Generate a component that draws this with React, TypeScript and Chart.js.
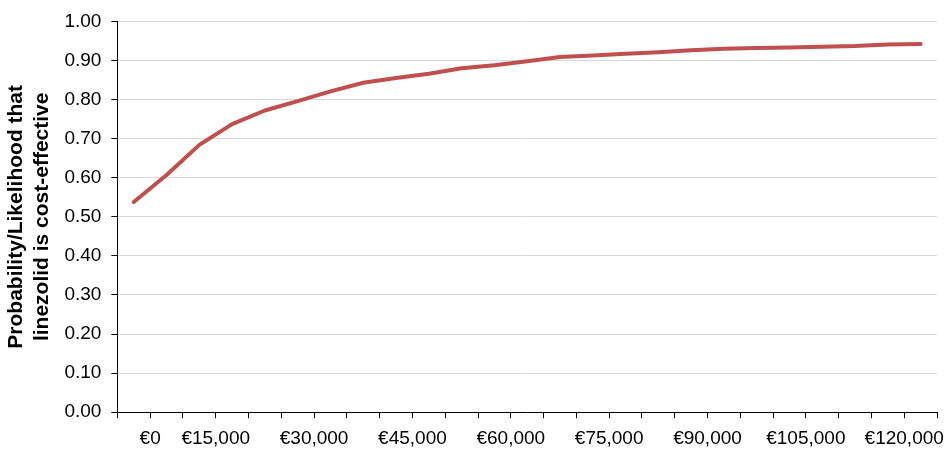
import React, { useEffect, useRef } from "react";
import { Chart, registerables } from "chart.js";

Chart.register(...registerables);

const categories: string[] = [
  "€0", "€5,000", "€10,000", "€15,000", "€20,000", "€25,000", "€30,000", "€35,000",
  "€40,000", "€45,000", "€50,000", "€55,000", "€60,000", "€65,000", "€70,000", "€75,000",
  "€80,000", "€85,000", "€90,000", "€95,000", "€100,000", "€105,000", "€110,000", "€115,000",
  "€120,000",
];

const probability: number[] = [
  0.538, 0.607, 0.684, 0.737, 0.772, 0.796, 0.821, 0.843, 0.855, 0.866, 0.88, 0.888,
  0.898, 0.909, 0.913, 0.917, 0.921, 0.926, 0.93, 0.932, 0.933, 0.935, 0.937, 0.941, 0.942,
];

const xTickLabels: string[] = [
  "€0", "€15,000", "€30,000", "€45,000", "€60,000", "€75,000", "€90,000", "€105,000", "€120,000",
];

const yTitle: string[] = ["Probability/Likelihood that", "linezolid is cost-effective"];

const FONT = "'Liberation Sans', Arial, sans-serif";

export default function App() {
  const ref = useRef<HTMLCanvasElement | null>(null);

  useEffect(() => {
    document.body.style.margin = "0";
    const canvas = ref.current;
    if (!canvas) return;
    const n = categories.length;
    const chart = new Chart(canvas, {
      type: "line",
      data: {
        datasets: [
          {
            label: "Probability",
            data: probability.map((v, i) => ({ x: i, y: v })),
            borderColor: "#c0504d",
            backgroundColor: "#c0504d",
            borderWidth: 4,
            pointRadius: 0,
            tension: 0,
            borderCapStyle: "round",
            borderJoinStyle: "round",
          },
        ],
      },
      options: {
        animation: false,
        responsive: false,
        maintainAspectRatio: false,
        layout: { padding: { top: 12, right: 0, left: 4, bottom: -9 } },
        plugins: {
          legend: { display: false },
          tooltip: { enabled: false },
        },
        scales: {
          x: {
            type: "linear",
            min: -0.5,
            max: n - 0.5,
            afterBuildTicks: (axis: any) => {
              const t: { value: number }[] = [];
              for (let b = 0; b <= n; b++) t.push({ value: b - 0.5 });
              axis.ticks = t;
            },
            ticks: {
              autoSkip: false,
              maxRotation: 0,
              minRotation: 0,
              padding: 9,
              color: "#000",
              font: { family: FONT, size: 19 },
              callback: (value: any) => {
                const b = Math.round(Number(value) + 0.5);
                if (b === 1) return xTickLabels[0];
                if (b >= 3 && (b - 3) % 3 === 0) {
                  const k = (b - 3) / 3 + 1;
                  return k < xTickLabels.length ? xTickLabels[k] : "";
                }
                return "";
              },
            },
            grid: {
              drawOnChartArea: false,
              drawTicks: true,
              tickLength: 6,
              color: "#000",
              tickColor: "#000",
            },
            border: { display: true, color: "#000", width: 1 },
          },
          y: {
            min: 0,
            max: 1,
            ticks: {
              stepSize: 0.1,
              padding: 10,
              color: "#000",
              font: { family: FONT, size: 19 },
              callback: (v: any) => Number(v).toFixed(2),
            },
            grid: {
              color: "#d9d9d9",
              lineWidth: 1,
              drawTicks: true,
              tickLength: 6,
              tickColor: "#000",
            },
            border: { display: true, color: "#000", width: 1 },
            title: {
              display: true,
              text: yTitle,
              color: "#000",
              font: { family: FONT, size: 21, weight: "bold", lineHeight: 1.2 },
              padding: { top: 0, bottom: 0 },
            },
          },
        },
      },
    });
    return () => chart.destroy();
  }, []);

  return <canvas ref={ref} width={946} height={450} style={{ display: "block" }} />;
}
